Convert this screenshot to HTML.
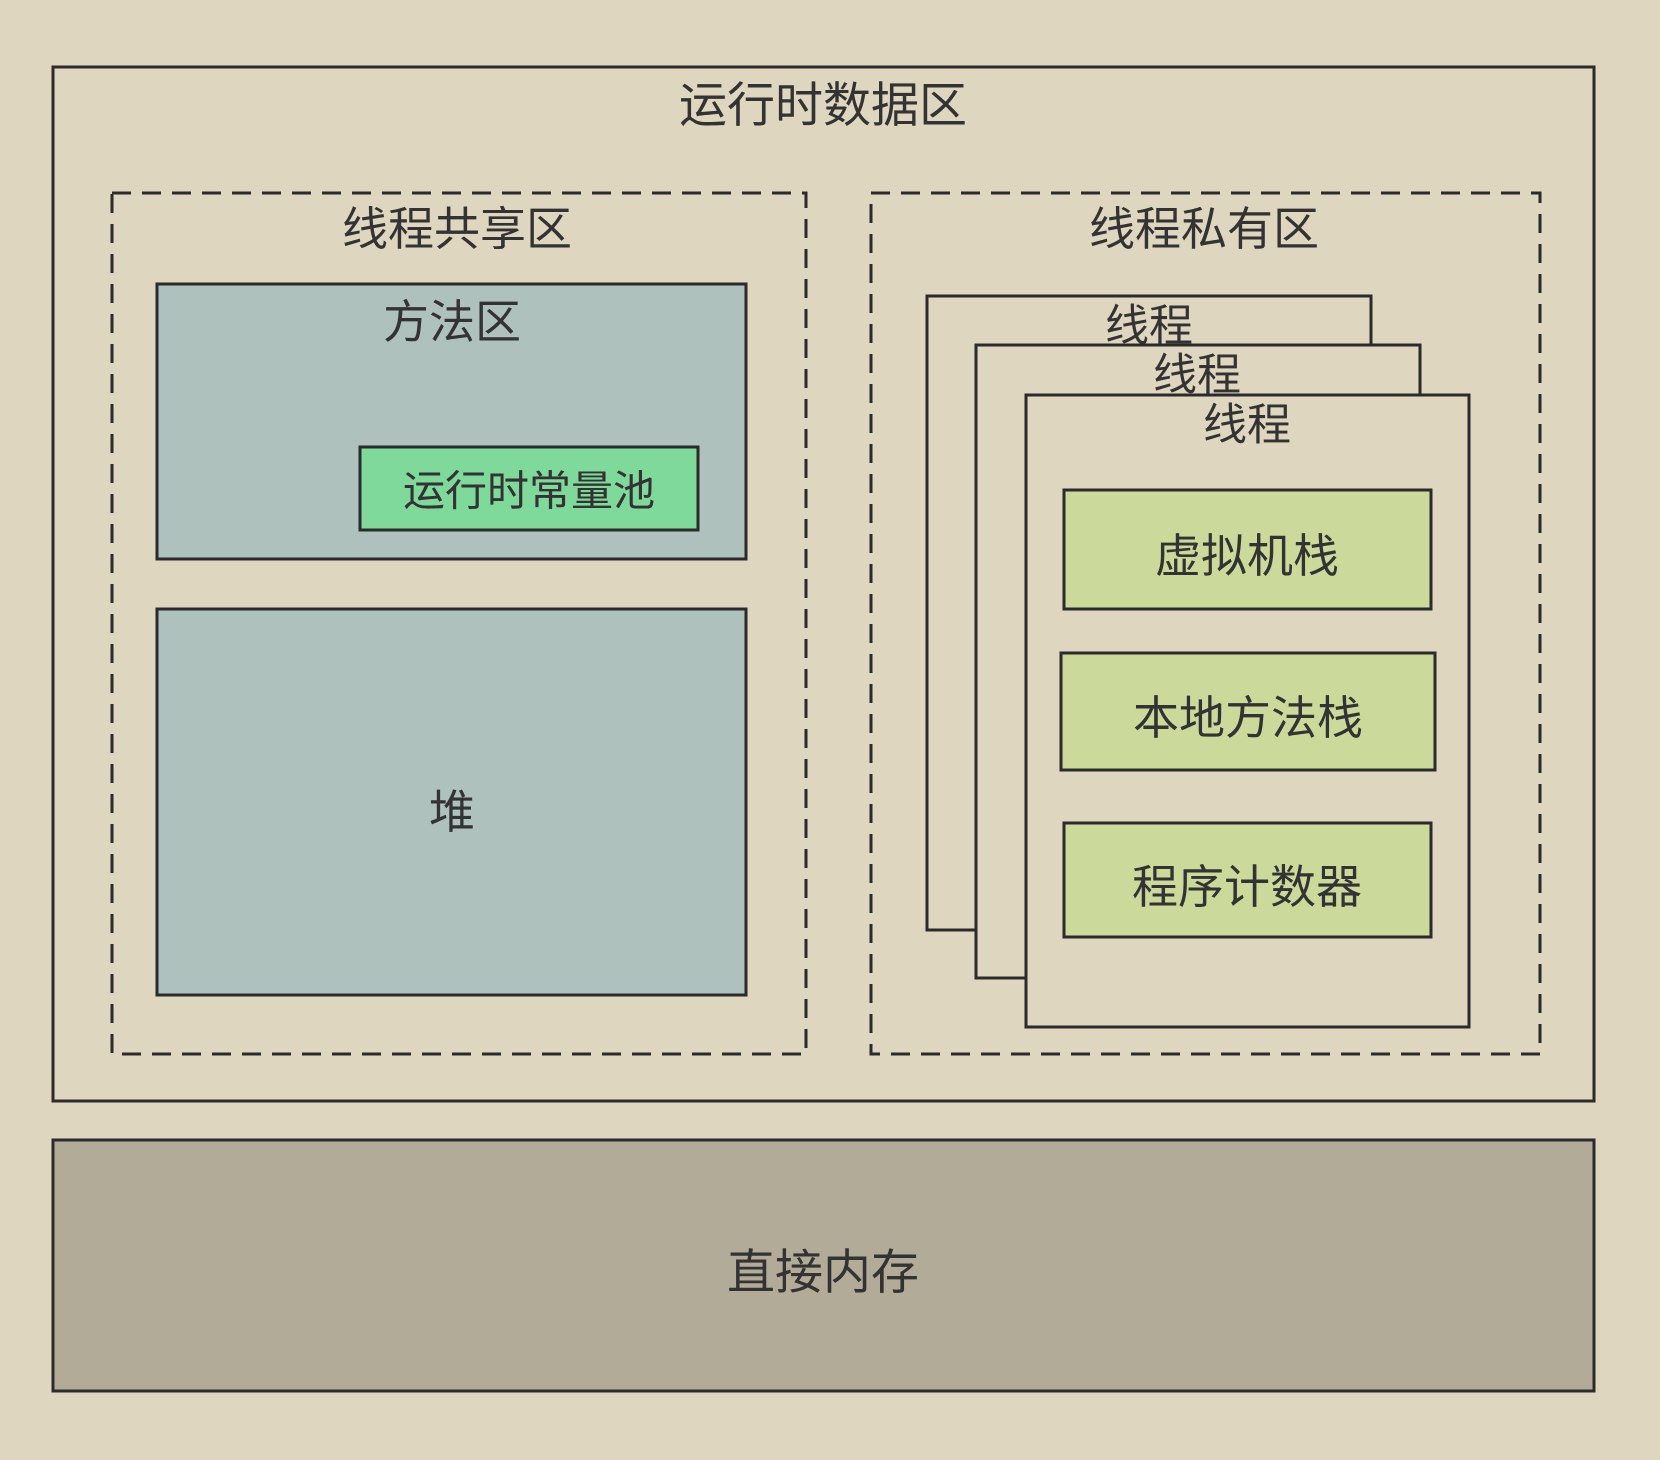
<!DOCTYPE html>
<html><head><meta charset="utf-8"><style>
html,body{margin:0;padding:0;background:#ded6bf;}
svg{display:block}
text{font-family:"Liberation Sans","Noto Sans CJK SC",sans-serif;fill:#333;text-anchor:middle;dominant-baseline:central;}
</style></head><body>
<svg width="1660" height="1460" viewBox="0 0 1660 1460" xmlns="http://www.w3.org/2000/svg">
<rect x="0" y="0" width="1660" height="1460" fill="#ded6bf"/>
<rect x="53" y="67" width="1541" height="1034" fill="#ded6bf" stroke="#2b2b2b" stroke-width="3"/>
<text x="823" y="106" font-size="48">运行时数据区</text>
<rect x="112" y="193" width="694" height="861" fill="none" stroke="#2b2b2b" stroke-width="3" stroke-dasharray="19,11"/>
<rect x="871" y="193" width="669" height="861" fill="none" stroke="#2b2b2b" stroke-width="3" stroke-dasharray="19,11"/>
<text x="457" y="229" font-size="46">线程共享区</text>
<text x="1204" y="229" font-size="46">线程私有区</text>
<rect x="157" y="284" width="589" height="275" fill="#afc1bd" stroke="#2b2b2b" stroke-width="3"/>
<text x="452" y="322" font-size="46">方法区</text>
<rect x="360" y="447" width="338" height="83" fill="#7fd99a" stroke="#2b2b2b" stroke-width="3"/>
<text x="529" y="491" font-size="42">运行时常量池</text>
<rect x="157" y="609" width="589" height="386" fill="#afc1bd" stroke="#2b2b2b" stroke-width="3"/>
<text x="452" y="812" font-size="46">堆</text>
<rect x="927" y="296" width="444" height="634" fill="#ded6bf" stroke="#2b2b2b" stroke-width="3"/>
<text x="1149" y="326" font-size="44">线程</text>
<rect x="976" y="345" width="444" height="633" fill="#ded6bf" stroke="#2b2b2b" stroke-width="3"/>
<text x="1197" y="375" font-size="44">线程</text>
<rect x="1026" y="395" width="443" height="632" fill="#ded6bf" stroke="#2b2b2b" stroke-width="3"/>
<text x="1247" y="425" font-size="44">线程</text>
<rect x="1064" y="490" width="367" height="119" fill="#cbd99a" stroke="#2b2b2b" stroke-width="3"/>
<text x="1247" y="556" font-size="46">虚拟机栈</text>
<rect x="1061" y="653" width="374" height="117" fill="#cbd99a" stroke="#2b2b2b" stroke-width="3"/>
<text x="1248" y="718" font-size="46">本地方法栈</text>
<rect x="1064" y="823" width="367" height="114" fill="#cbd99a" stroke="#2b2b2b" stroke-width="3"/>
<text x="1247" y="887" font-size="46">程序计数器</text>
<rect x="53" y="1140" width="1541" height="251" fill="#b2ab98" stroke="#2b2b2b" stroke-width="3"/>
<text x="823" y="1273" font-size="48">直接内存</text>
</svg>
</body></html>
